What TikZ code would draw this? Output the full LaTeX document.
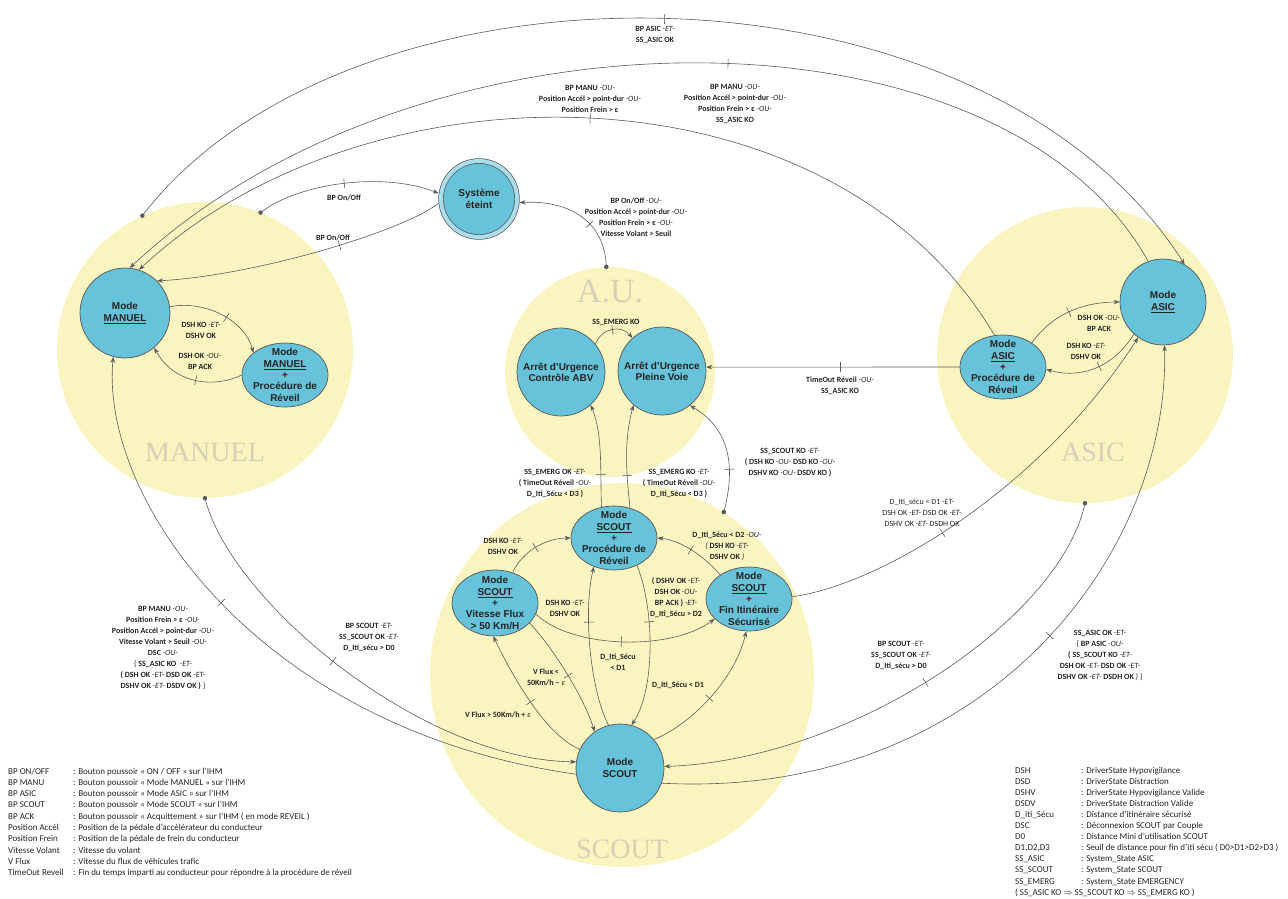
\documentclass[tikz,border=0pt]{standalone}
\usepackage{fontspec}
\setmainfont{Carlito}
\newfontfamily\statefont{Liberation Sans}
\newfontfamily\zonefont{Liberation Serif}
\usetikzlibrary{shapes.geometric,arrows.meta}

\definecolor{zonec}{RGB}{250,245,192}
\definecolor{nodeb}{RGB}{103,195,218}
\definecolor{ringb}{RGB}{172,221,236}
\definecolor{bordc}{RGB}{85,85,85}
\definecolor{edgec}{RGB}{90,90,90}
\definecolor{zlabc}{RGB}{214,208,182}
\definecolor{labc}{RGB}{35,35,35}

\newcommand{\ET}{{\mdseries\itshape -ET-}}
\newcommand{\OU}{{\mdseries\itshape -OU-}}

\tikzset{
  zone/.style={circle, fill=zonec, inner sep=0pt},
  zonelab/.style={font=\zonefont\fontsize{28}{28}\selectfont, text=zlabc},
  state/.style={circle, draw=bordc, fill=nodeb, line width=.7pt, minimum size=88pt,
    inner sep=0pt, align=center, text=labc,
    font=\statefont\bfseries\fontsize{10}{11.3}\selectfont},
  wakeup/.style={state, ellipse, minimum width=86pt, minimum height=64pt,
    inner xsep=-2pt, inner ysep=-6pt},
  cond/.style={align=center, inner sep=0pt, text=labc,
    font=\bfseries\fontsize{8}{11}\selectfont},
  trans/.style={draw=edgec, line width=.6pt, -{Stealth[length=6pt,width=4.5pt]}},
  tick/.style={sloped, inner sep=0pt, text=edgec,
    node contents={\rule[-5pt]{.6pt}{10pt}}},
  dot/.style={circle, fill=edgec, inner sep=0pt, minimum size=4.5pt},
  legend/.style={anchor=base west, inner sep=0pt, text=labc,
    font=\fontsize{9}{10}\selectfont}
}

\begin{document}
\begin{tikzpicture}[x=1pt,y=-1pt]
\useasboundingbox (0,0) rectangle (1288,899);

% super states
\node[zone, minimum size=296pt] (zman) at (205,350) {};
\node[zone, minimum size=296pt] (zasic) at (1085,355) {};
\node[zone, minimum size=210pt] (zau) at (610,372) {};
\node[zone, minimum size=384pt] (zscout) at (622,675) {};
\node[zonelab] (nman) at (205,452) {MANUEL};
\node[zonelab] (nasic) at (1093,452) {ASIC};
\node[zonelab, font=\zonefont\fontsize{34}{34}\selectfont] (nau) at (610,292) {A.U.};
\node[zonelab] (nscout) at (622,849) {SCOUT};

% states
\node[state, minimum size=76pt, double=ringb, double distance=4pt, outer sep=2.7pt]
  (off) at (479,199) {Système\\éteint};
\node[state, minimum size=90pt] (man) at (125,313) {Mode\\\underline{MANUEL}};
\node[wakeup] (manrev) at (285,375) {Mode\\\underline{MANUEL}\\+\\Procédure de\\Réveil};
\node[state] (abv) at (561,372) {Arrêt d’Urgence\\Contrôle ABV};
\node[state] (pv) at (662,371) {Arrêt d’Urgence\\Pleine Voie};
\node[wakeup] (asicrev) at (1003,367) {Mode\\\underline{ASIC}\\+\\Procédure de\\Réveil};
\node[state, minimum size=86pt] (asic) at (1163,302) {Mode\\\underline{ASIC}};
\node[wakeup] (scrrev) at (614,538) {Mode\\\underline{SCOUT}\\+\\Procédure de\\Réveil};
\node[wakeup, minimum height=66pt] (scflux) at (495,603) {Mode\\\underline{SCOUT}\\+\\Vitesse Flux\\> 50 Km/H};
\node[wakeup] (scfin) at (749,599) {Mode\\\underline{SCOUT}\\+\\Fin Itinéraire\\Sécurisé};
\node[state] (scout) at (620,768) {Mode\\SCOUT};

% start dots on the super states
\node[dot] (d1) at (zman.115) {};
\node[dot] (d2) at (zman.68) {};
\node[dot] (d3) at (zau.92) {};
\node[dot] (d4) at (zscout.58) {};
\node[dot] (d5) at (zman.-90) {};
\node[dot] (d6) at (zasic.-90) {};

% transitions
\draw[trans] (d1.center) .. controls (350,-55) and (980,-55) .. (asic.60) node[tick,pos=.5];
\draw[trans] (asic.110) .. controls (1000,-4) and (420,-4) .. (man.84) node[tick,pos=.47];
\draw[trans] (asicrev.105) .. controls (830,57) and (366,57) .. (man.72) node[tick,pos=.5];
\draw[trans] (d2.center) .. controls (300,182) and (385,172) .. (off.172) node[tick,pos=.5];
\draw[trans] (off.186) .. controls (405,230) and (260,275) .. (man.45) node[tick,pos=.45];
\draw[trans] (d3.center) .. controls (605,222) and (570,200) .. (off.-5) node[tick,pos=.4];
\draw[trans] (man.8) .. controls (205,300) and (245,320) .. (manrev.145) node[tick,pos=.55];
\draw[trans] (manrev.180) .. controls (215,388) and (175,385) .. (man.-50) node[tick,pos=.5];
\draw[trans] (abv.39) .. controls (602,327) and (622,325) .. (pv.132) node[tick,pos=.5];
\draw[trans] (asicrev.west) -- (pv.5) node[tick,pos=.47];
\draw[trans] (asicrev.40) .. controls (1055,310) and (1090,302) .. (asic.180) node[tick,pos=.45];
\draw[trans] (asic.228) .. controls (1110,372) and (1075,378) .. (asicrev.-3) node[tick,pos=.42];
\draw[trans] (scrrev.112) .. controls (600,470) and (603,435) .. (abv.-48) node[tick,pos=.3];
\draw[trans] (scrrev.62) .. controls (626,470) and (624,440) .. (pv.-130) node[tick,pos=.3];
\draw[trans] (d4.center) .. controls (735,470) and (732,430) .. (pv.-51) node[tick,pos=.35];
\draw[trans] (scflux.60) .. controls (522,552) and (545,538) .. (scrrev.180) node[tick,pos=.5];
\draw[trans] (scfin.140) .. controls (703,555) and (680,540) .. (scrrev.0) node[tick,pos=.5];
\draw[trans] (scout.105) .. controls (590,690) and (583,610) .. (scrrev.-125) node[tick,pos=.65];
\draw[trans] (scrrev.-50) .. controls (655,610) and (655,690) .. (scout.75) node[tick,pos=.35];
\draw[trans] (scflux.-15) .. controls (570,648) and (670,652) .. (scfin.-150) node[tick,pos=.5];
\draw[trans] (scflux.-30) .. controls (555,650) and (585,700) .. (scout.125) node[tick,pos=.5];
\draw[trans] (scout.155) .. controls (545,735) and (512,675) .. (scflux.-93) node[tick,pos=.5];
\draw[trans] (scout.40) .. controls (690,725) and (735,680) .. (scfin.-95) node[tick,pos=.5];
\draw[trans] (scfin.3) .. controls (880,585) and (1040,490) .. (asic.235) node[tick,pos=.45];
\draw[trans] (d5.center) .. controls (230,600) and (420,760) .. (scout.172) node[tick,pos=.48];
\draw[trans] (scout.188) .. controls (260,730) and (100,500) .. (man.255) node[tick,pos=.5];
\draw[trans] (d6.center) .. controls (1060,620) and (850,760) .. (scout.2) node[tick,pos=.52];
\draw[trans] (scout.-20) .. controls (980,800) and (1170,560) .. (asic.272) node[tick,pos=.53];

% conditions
\node[cond] (l1) at (655,35) {BP ASIC \ET\\SS\_ASIC OK};
\node[cond] (l2) at (735,104) {BP MANU \OU\\Position Accél > point-dur \OU\\Position Frein > ε \OU\\SS\_ASIC KO};
\node[cond] (l3) at (590,99) {BP MANU \OU\\Position Accél > point-dur \OU\\Position Frein > ε};
\node[cond] (l4) at (344,198) {BP On/Off};
\node[cond] (l5) at (333,238) {BP On/Off};
\node[cond] (l6) at (636,217) {BP On/Off \OU\\Position Accél > point-dur \OU\\Position Frein > ε \OU\\Vitesse Volant > Seuil};
\node[cond] (l7) at (201,330) {DSH KO \ET\\DSHV OK};
\node[cond] (l8) at (200,361) {DSH OK \OU\\BP ACK};
\node[cond] (l9) at (616,322) {SS\_EMERG KO};
\node[cond] (l10) at (840,386) {TimeOut Réveil \OU\\SS\_ASIC KO};
\node[cond] (l11) at (1099,323) {DSH OK \OU\\BP ACK};
\node[cond] (l12) at (1086,351) {DSH KO \ET\\DSHV OK};
\node[cond] (l13) at (555,483) {SS\_EMERG OK \ET\\( TimeOut Réveil \OU\\D\_Iti\_Sécu < D3 )};
\node[cond] (l14) at (679,483) {SS\_EMERG KO \ET\\( TimeOut Réveil \OU\\D\_Iti\_Sécu < D3 )};
\node[cond] (l15) at (790,462) {SS\_SCOUT KO \ET\\( DSH KO \OU{} DSD KO \OU\\DSHV KO \OU{} DSDV KO )};
\node[cond] (l16) at (503,546) {DSH KO \ET\\DSHV OK};
\node[cond] (l17) at (727,546) {D\_Iti\_Sécu < D2 \OU\\{\mdseries\itshape (} DSH KO \ET\\DSHV OK {\mdseries\itshape )}};
\node[cond] (l18) at (565,608) {DSH KO \ET\\DSHV OK};
\node[cond] (l19) at (676,598) {( DSHV OK \ET\\DSH OK \OU\\BP ACK ) \ET\\D\_Iti\_Sécu > D2};
\node[cond] (l20) at (618,662) {D\_Iti\_Sécu\\< D1};
\node[cond] (l21) at (546,677) {V Flux <\\50Km/h – {\mdseries\itshape ε}};
\node[cond] (l22) at (498,715) {V Flux > 50Km/h + {\mdseries\itshape ε}};
\node[cond] (l23) at (678,685) {D\_Iti\_Sécu < D1};
\node[cond, font=\fontsize{8}{11}\selectfont] (l24) at (922,513) {D\_Iti\_sécu < D1 \ET\\DSH OK \ET{} DSD OK \ET\\DSHV OK \ET{} DSDH OK};
\node[cond] (l25) at (369,637) {BP SCOUT \ET\\SS\_SCOUT OK \ET\\D\_Iti\_sécu > D0};
\node[cond] (l26) at (163,648) {BP MANU \OU\\Position Frein > ε \OU\\Position Accél > point-dur \OU\\Vitesse Volant > Seuil \OU\\DSC \OU\\{\mdseries\{} SS\_ASIC KO ~\ET\\( DSH OK \ET{} DSD OK \ET\\DSHV OK \ET{} DSDV OK ) {\mdseries\}}};
\node[cond] (l27) at (901,655) {BP SCOUT \ET\\SS\_SCOUT OK \ET\\D\_Iti\_sécu > D0};
\node[cond] (l28) at (1100,655) {SS\_ASIC OK \ET\\{\mdseries\{} BP ASIC \OU\\( SS\_SCOUT KO \ET\\DSH OK \ET{} DSD OK \ET\\DSHV OK \ET{} DSDH OK {\mdseries\itshape )} {\mdseries\}}};

% legends
\foreach \a/\b [count=\i] in {
  {BP ON/OFF}/{: Bouton poussoir « ON / OFF » sur l’IHM},
  {BP MANU}/{: Bouton poussoir « Mode MANUEL » sur l’IHM},
  {BP ASIC}/{: Bouton poussoir « Mode ASIC » sur l’IHM},
  {BP SCOUT}/{: Bouton poussoir « Mode SCOUT » sur l’IHM},
  {BP ACK}/{: Bouton poussoir « Acquittement » sur l’IHM ( en mode REVEIL )},
  {Position Accél}/{: Position de la pédale d’accélérateur du conducteur},
  {Position Frein}/{: Position de la pédale de frein du conducteur},
  {Vitesse Volant}/{: Vitesse du volant},
  {V Flux}/{: Vitesse du flux de véhicules trafic},
  {TimeOut Reveil}/{: Fin du temps imparti au conducteur pour répondre à la procédure de réveil}}
{
  \node[legend] (ka\i) at (8,{774+11.3*(\i-1)}) {\a};
  \node[legend] (da\i) at (73,{774+11.3*(\i-1)}) {\b};
}
\foreach \a/\b [count=\i] in {
  {DSH}/{: DriverState Hypovigilance},
  {DSD}/{: DriverState Distraction},
  {DSHV}/{: DriverState Hypovigilance Valide},
  {DSDV}/{: DriverState Distraction Valide},
  {D\_Iti\_Sécu}/{: Distance d’itinéraire sécurisé},
  {DSC}/{: Déconnexion SCOUT par Couple},
  {D0}/{: Distance Mini d’utilisation SCOUT},
  {D1,D2,D3}/{: Seuil de distance pour fin d’iti sécu ( D0>D1>D2>D3 )},
  {SS\_ASIC}/{: System\_State ASIC},
  {SS\_SCOUT}/{: System\_State SCOUT},
  {SS\_EMERG}/{: System\_State EMERGENCY}}
{
  \node[legend] (kb\i) at (1015,{773+11.1*(\i-1)}) {\a};
  \node[legend] (db\i) at (1081,{773+11.1*(\i-1)}) {\b};
}
\node[legend] (kb12) at (1015,895) {( SS\_ASIC KO $\Rightarrow$ SS\_SCOUT KO $\Rightarrow$ SS\_EMERG KO )};
\end{tikzpicture}
\end{document}
